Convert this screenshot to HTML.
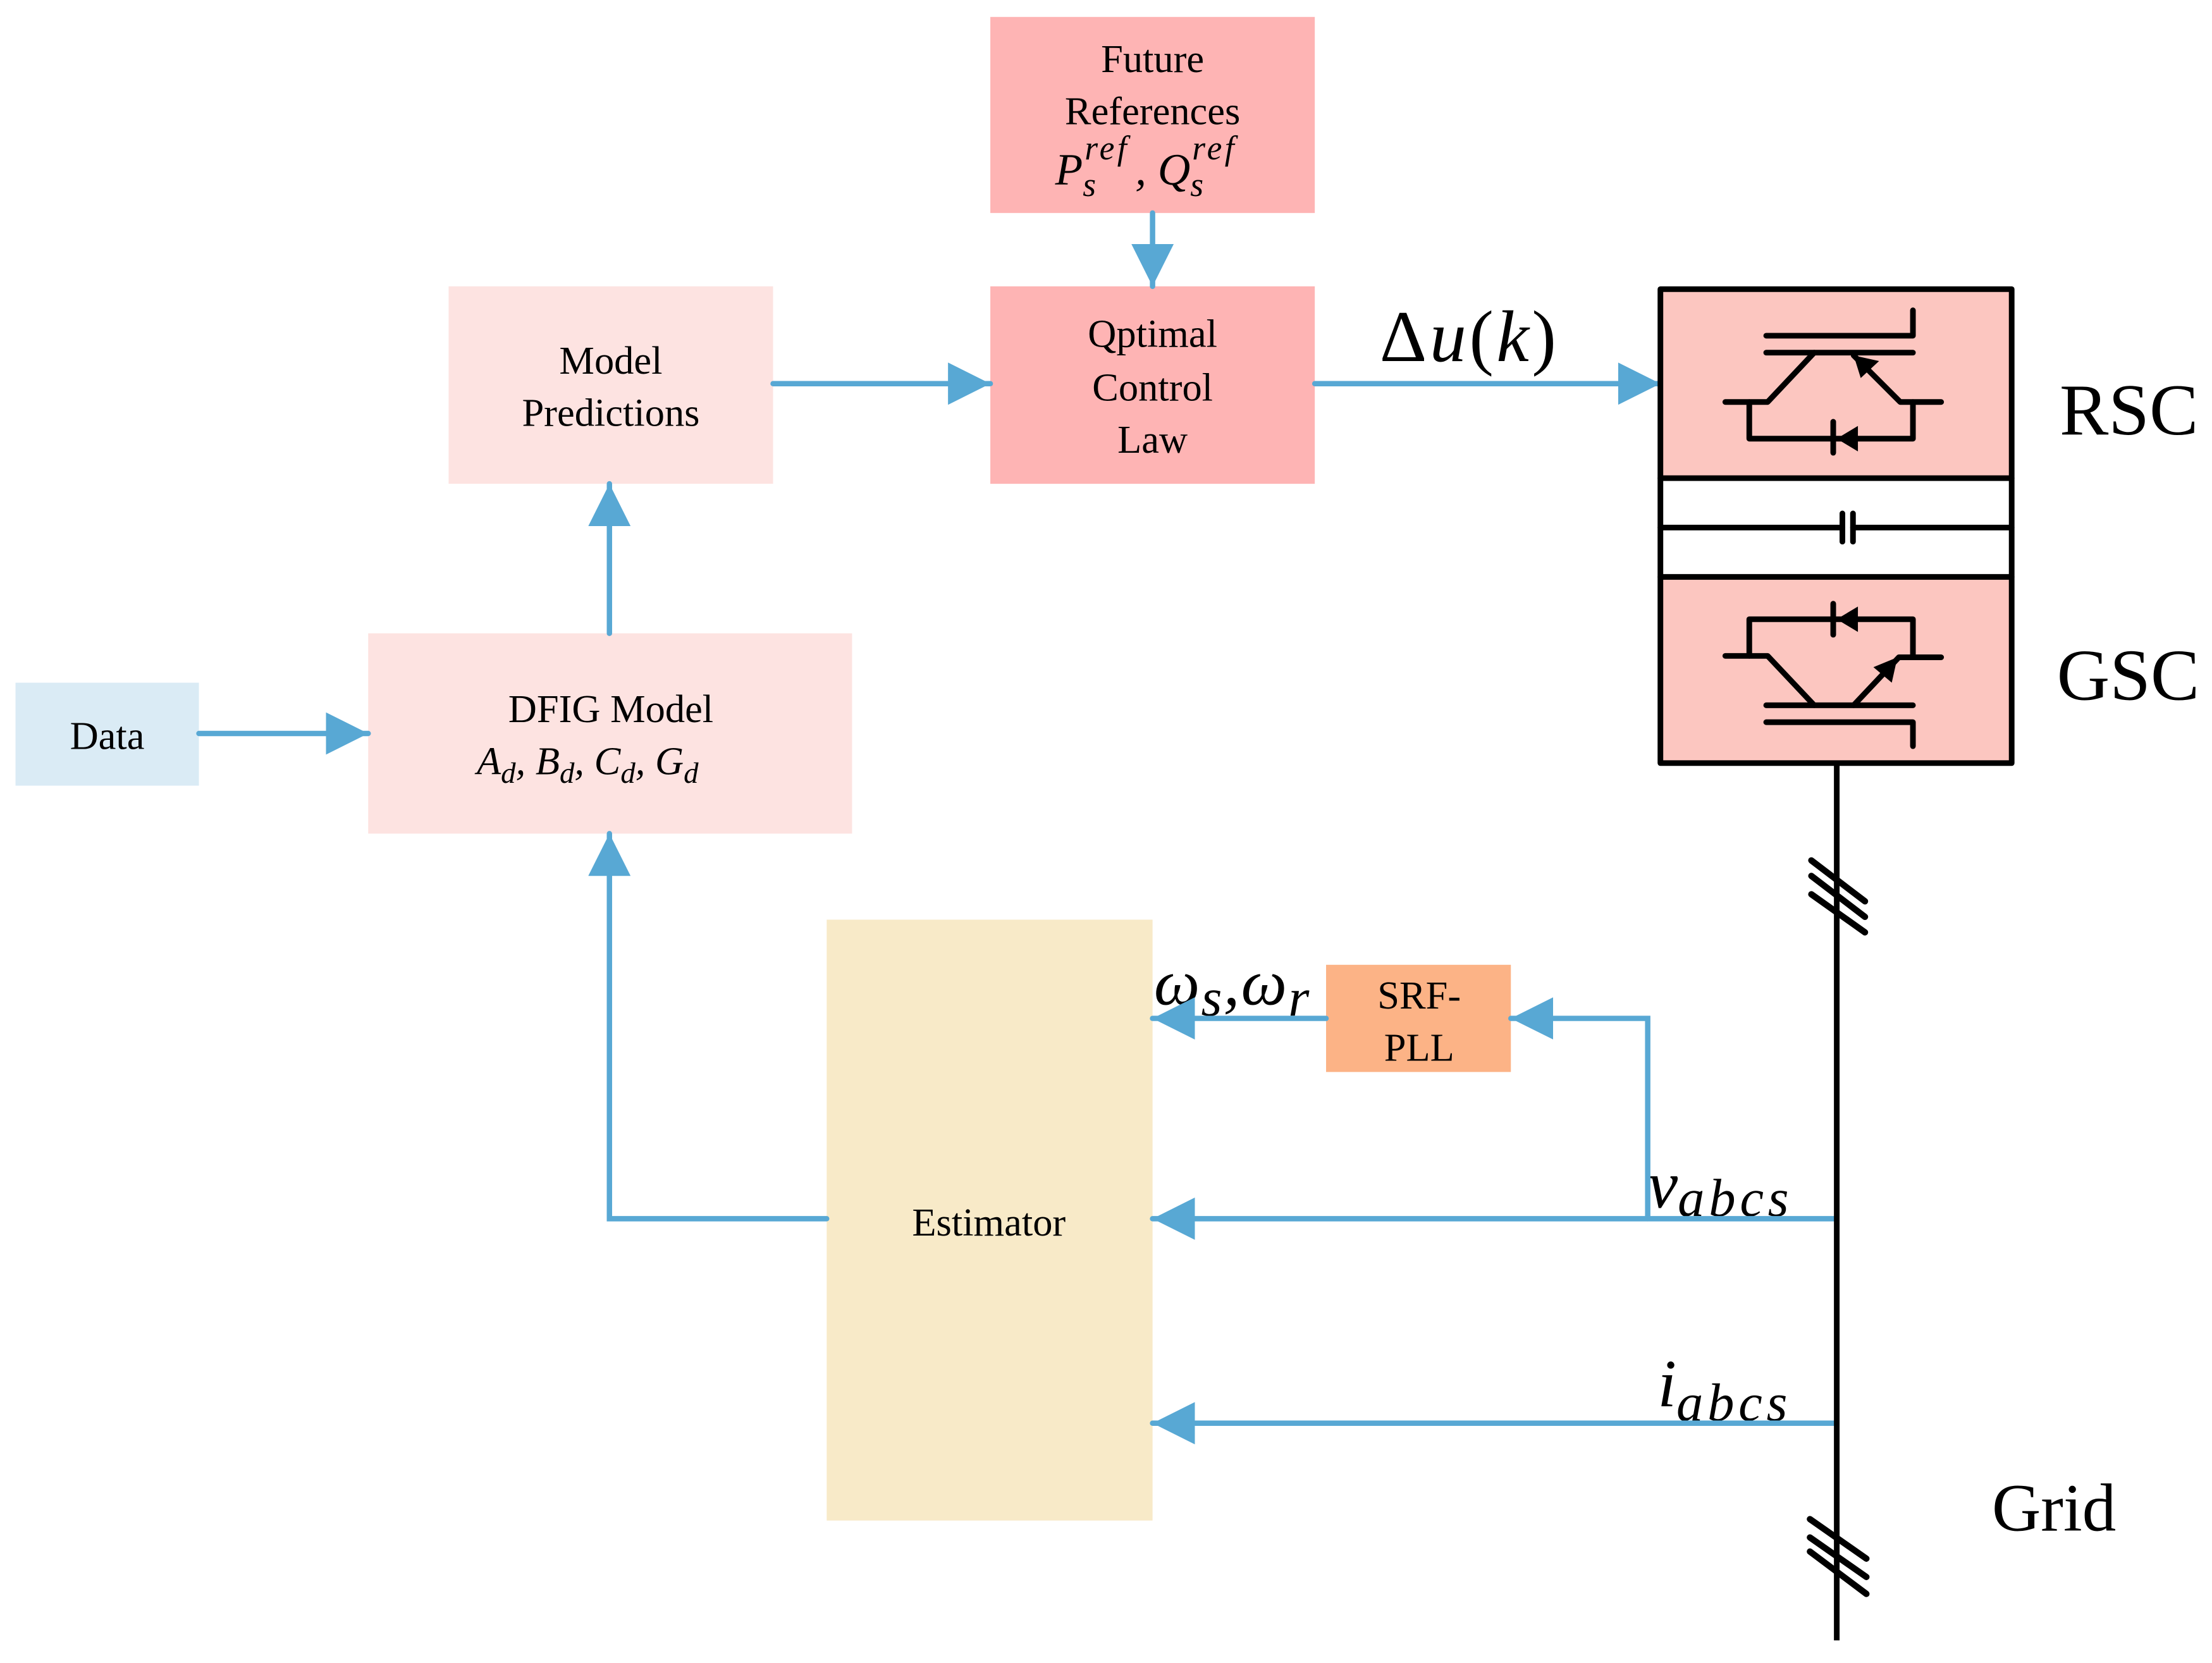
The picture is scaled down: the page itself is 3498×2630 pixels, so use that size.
<!DOCTYPE html>
<html><head><meta charset="utf-8"><style>
html,body{margin:0;padding:0;background:#fff}
svg{display:block}
text{font-family:"Liberation Serif",serif;fill:#000}
.m{font-style:italic}
</style></head><body>
<svg width="3498" height="2630" viewBox="0 0 1568 1179" preserveAspectRatio="none" xmlns="http://www.w3.org/2000/svg">
<defs>
<marker id="ah" markerWidth="30" markerHeight="30" refX="30" refY="15" orient="auto" markerUnits="userSpaceOnUse">
<path d="M0,0 L30,15 L0,30 Z" fill="#58a8d4"/>
</marker>
</defs>
<rect x="702" y="12" width="230" height="139" fill="#feb4b4"/>
<rect x="702" y="203" width="230" height="140" fill="#feb4b4"/>
<rect x="318" y="203" width="230" height="140" fill="#fde3e1"/>
<rect x="261" y="449" width="343" height="142" fill="#fde3e1"/>
<rect x="11" y="484" width="130" height="73" fill="#daebf5"/>
<rect x="586" y="652" width="231" height="426" fill="#f8eac8"/>
<rect x="940" y="684" width="131" height="76" fill="#fcb386"/>

<g font-size="28" text-anchor="middle">
<text x="817" y="51">Future</text>
<text x="817" y="88">References</text>
<text x="817" y="246">Qptimal</text>
<text x="817" y="284">Control</text>
<text x="817" y="321">Law</text>
<text x="433" y="265">Model</text>
<text x="433" y="302">Predictions</text>
<text x="433" y="512">DFIG Model</text>
<text x="76" y="531">Data</text>
<text x="701" y="876">Estimator</text>
<text x="1006" y="715">SRF-</text>
<text x="1006" y="752">PLL</text>
</g>
<text x="748" y="131" font-size="32" class="m">P<tspan font-size="24" dy="8">s</tspan><tspan font-size="24" dy="-26" dx="-8" letter-spacing="2">ref</tspan><tspan dy="18" font-size="32" dx="4">, Q</tspan><tspan font-size="24" dy="8">s</tspan><tspan font-size="24" dy="-26" dx="-8" letter-spacing="2">ref</tspan></text>
<text x="338" y="549" font-size="28" class="m">A<tspan font-size="21" dy="6">d</tspan><tspan dy="-6">, B</tspan><tspan font-size="21" dy="6">d</tspan><tspan dy="-6">, C</tspan><tspan font-size="21" dy="6">d</tspan><tspan dy="-6">, G</tspan><tspan font-size="21" dy="6">d</tspan></text>
<text x="978" y="256" font-size="52" letter-spacing="2"><tspan>Δ</tspan><tspan class="m">u</tspan>(<tspan class="m">k</tspan>)</text>
<text x="818" y="712" font-size="46" class="m" letter-spacing="1">ω<tspan font-size="38" dy="8">s</tspan><tspan dy="-8">,ω</tspan><tspan font-size="38" dy="8">r</tspan></text>
<text x="1168" y="856" font-size="48" class="m">v<tspan font-size="38" dy="6" letter-spacing="3">abcs</tspan></text>
<text x="1175" y="997" font-size="48" class="m">i<tspan font-size="38" dy="10" letter-spacing="3">abcs</tspan></text>
<text x="1460" y="308" font-size="52">RSC</text>
<text x="1458" y="496" font-size="52">GSC</text>
<text x="1412" y="1085" font-size="48">Grid</text>

<g stroke="#58a8d4" stroke-width="3.8" fill="none" stroke-linecap="round">
<line x1="817" y1="151" x2="817" y2="203" marker-end="url(#ah)"/>
<line x1="548" y1="272" x2="702" y2="272" marker-end="url(#ah)"/>
<line x1="932" y1="272" x2="1177" y2="272" marker-end="url(#ah)"/>
<line x1="432" y1="449" x2="432" y2="343" marker-end="url(#ah)"/>
<line x1="141" y1="520" x2="261" y2="520" marker-end="url(#ah)"/>
<polyline points="586,864 432,864 432,591" marker-end="url(#ah)"/>
<line x1="940" y1="722" x2="817" y2="722" marker-end="url(#ah)"/>
<polyline points="1168,864 1168,722 1071,722" marker-end="url(#ah)"/>
<line x1="1302" y1="864" x2="817" y2="864" marker-end="url(#ah)"/>
<line x1="1302" y1="1009" x2="817" y2="1009" marker-end="url(#ah)"/>
</g>

<line x1="1302" y1="541" x2="1302" y2="1163" stroke="#000" stroke-width="4"/>
<g stroke="#000" stroke-width="4.5" stroke-linecap="round">
<line x1="1284" y1="610" x2="1322" y2="639"/>
<line x1="1284" y1="621" x2="1322" y2="650"/>
<line x1="1284" y1="634" x2="1322" y2="661"/>
<line x1="1283" y1="1077" x2="1323" y2="1105"/>
<line x1="1283" y1="1090" x2="1323" y2="1118"/>
<line x1="1283" y1="1100" x2="1323" y2="1130"/>
</g>

<rect x="1177" y="205" width="249" height="134" fill="#fcc6c0"/>
<rect x="1177" y="409" width="249" height="132" fill="#fcc6c0"/>
<g stroke="#000" stroke-width="4" fill="none" stroke-linecap="round" stroke-linejoin="round">
<rect x="1177" y="205" width="249" height="336"/>
<line x1="1177" y1="339" x2="1426" y2="339"/>
<line x1="1177" y1="409" x2="1426" y2="409"/>
<line x1="1177" y1="374" x2="1306" y2="374"/>
<line x1="1313.5" y1="374" x2="1426" y2="374"/>
<line x1="1306" y1="364" x2="1306" y2="384"/>
<line x1="1313.5" y1="364" x2="1313.5" y2="384"/>
<polyline points="1252,238 1356,238 1356,220"/>
<line x1="1252" y1="250" x2="1356" y2="250"/>
<polyline points="1286,250 1253,285 1223,285"/>
<polyline points="1314,252 1347,285 1376,285"/>
<polyline points="1240,285 1240,311 1356,311 1356,285"/>
<line x1="1299.5" y1="299" x2="1299.5" y2="321"/>
<polyline points="1240,465 1240,439 1356,439 1356,465"/>
<line x1="1299.5" y1="428" x2="1299.5" y2="450"/>
<polyline points="1223,465 1253,465 1286,500"/>
<polyline points="1314,500 1346,466 1376,466"/>
<line x1="1252" y1="500" x2="1356" y2="500"/>
<polyline points="1252,512 1356,512 1356,529"/>
</g>
<g fill="#000">
<path d="M1302,311 L1317,302 L1317,320 Z"/>
<path d="M1302,439 L1317,430 L1317,448 Z"/>
<path d="M1314,252 L1319,268 L1332,256 Z"/>
<path d="M1345,466 L1328,473 L1341,484 Z"/>
</g>
</svg>
</body></html>
